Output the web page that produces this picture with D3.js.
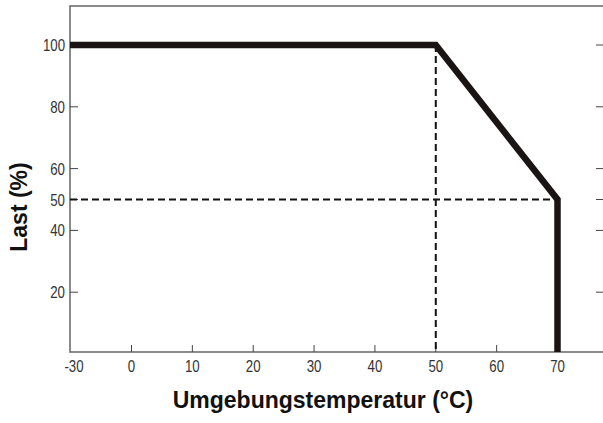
<!DOCTYPE html>
<html>
<head>
<meta charset="utf-8">
<script src="https://cdn.jsdelivr.net/npm/d3@7/dist/d3.min.js"></script>
<style>
	body { margin: 0; background: #fff; }
	.tick-label { font-family: "Liberation Sans", Arial, sans-serif; font-size: 17px; fill: #333; }
	.axis-title { font-family: "Liberation Sans", Arial, sans-serif; font-weight: bold; fill: #111; }
</style>
</head>
<body>
<svg id="svg"></svg>
<script>
// derating curve: temperature (°C) vs load (%)
const curveTemp = [-30, 50, 70, 70];
const curveLoad = [100, 100, 50, 0];
const xTicks = [-30, 0, 10, 20, 30, 40, 50, 60, 70];
const yTicks = [20, 40, 50, 60, 80, 100];
const markTemp = 50;
const markLoad = 50;

const svg = d3.select('#svg').attr('width', 603).attr('height', 423);

const plotLeft = 70, plotRight = 604, plotTop = 6, plotBottom = 352;
const narrow = 0.78; // horizontal squeeze for the narrow tick font

// x axis is broken between -30 and 0
const x = d3.scaleLinear().domain([-30, 0, 70]).range([plotLeft, 131.5, 557.5]);
const y = d3.scaleLinear().domain([0, 100]).range([354, 45]);

// frame
svg.append('rect')
	.attr('x', plotLeft).attr('y', plotTop)
	.attr('width', plotRight - plotLeft).attr('height', plotBottom - plotTop)
	.attr('fill', 'none').attr('stroke', '#6e6e6e').attr('stroke-width', 1.6);

// bottom ticks (inward)
svg.selectAll('line.xtick')
	.data(xTicks.filter(d => d > -30))
	.enter().append('line')
		.attr('class', 'xtick')
		.attr('x1', d => x(d)).attr('x2', d => x(d))
		.attr('y1', plotBottom).attr('y2', plotBottom - 7)
		.attr('stroke', '#444').attr('stroke-width', 1);

svg.selectAll('g.xlab')
	.data(xTicks)
	.enter().append('g')
		.attr('class', 'xlab')
		.attr('transform', d => `translate(${d === -30 ? x(d) + 4 : x(d)}, ${plotBottom + 20}) scale(${narrow},1)`)
	.append('text')
		.attr('class', 'tick-label')
		.attr('text-anchor', 'middle')
		.text(d => d);

// left and right ticks
[[plotLeft, 8], [plotRight, -8]].forEach(([px, len]) => {
	svg.selectAll(null)
		.data(yTicks)
		.enter().append('line')
			.attr('x1', px).attr('x2', px + len)
			.attr('y1', d => y(d)).attr('y2', d => y(d))
			.attr('stroke', '#444').attr('stroke-width', 1);
});

svg.selectAll('g.ylab')
	.data(yTicks)
	.enter().append('g')
		.attr('class', 'ylab')
		.attr('transform', d => `translate(${plotLeft - 5}, ${y(d) + 6}) scale(${narrow},1)`)
	.append('text')
		.attr('class', 'tick-label')
		.attr('text-anchor', 'end')
		.text(d => d);

// dashed reference lines
svg.append('line')
	.attr('x1', x(markTemp)).attr('x2', x(markTemp))
	.attr('y1', y(100)).attr('y2', plotBottom)
	.attr('stroke', '#111').attr('stroke-width', 2)
	.attr('stroke-dasharray', '7,4');
svg.append('line')
	.attr('x1', plotLeft).attr('x2', x(70))
	.attr('y1', y(markLoad)).attr('y2', y(markLoad))
	.attr('stroke', '#111').attr('stroke-width', 2)
	.attr('stroke-dasharray', '7,4');

// curve
const line = d3.line()
	.x((d, i) => x(curveTemp[i]))
	.y((d, i) => Math.min(y(curveLoad[i]), plotBottom));
svg.append('path')
	.datum(curveTemp)
	.attr('d', line)
	.attr('fill', 'none')
	.attr('stroke', '#1a1514')
	.attr('stroke-width', 6.5)
	.attr('stroke-linejoin', 'miter');

// axis titles
svg.append('text')
	.attr('class', 'axis-title')
	.attr('x', 323).attr('y', 408)
	.attr('text-anchor', 'middle')
	.style('font-size', '23px')
	.text('Umgebungstemperatur (°C)');

svg.append('text')
	.attr('class', 'axis-title')
	.attr('transform', 'translate(27,207) rotate(-90)')
	.attr('text-anchor', 'middle')
	.style('font-size', '23px')
	.text('Last (%)');
</script>
</body>
</html>
